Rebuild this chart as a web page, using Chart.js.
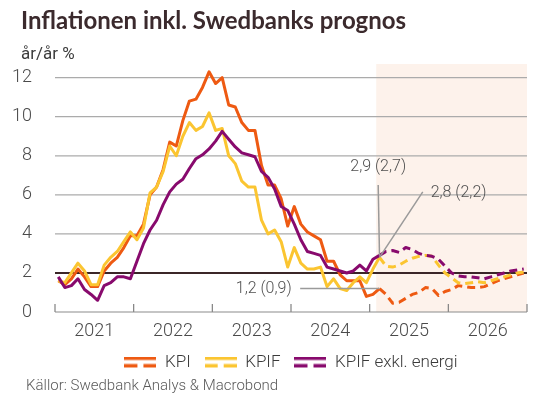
<!DOCTYPE html>
<html>
<head>
<meta charset="utf-8">
<script src="https://cdn.jsdelivr.net/npm/chart.js@4/dist/chart.umd.min.js"></script>
<style>
  html, body { margin: 0; padding: 0; background: #fff; }
  #wrap { width: 543px; height: 399px; }
</style>
</head>
<body>
<div id="wrap"><canvas id="myChart" width="543" height="399"></canvas></div>
<script>
// monthly, Jan 2021 - Dec 2026 (y/y %)
const years = ["2021", "2022", "2023", "2024", "2025", "2026"];
const yTicks = [0, 2, 4, 6, 8, 10, 12];
const lastOutcome = 49; // Feb 2025, forecast after this

const kpi = [
  1.6, 1.4, 1.7, 2.2, 1.8, 1.3, 1.3, 2.1, 2.5, 2.8, 3.3, 3.9,
  3.9, 4.5, 6.0, 6.4, 7.3, 8.7, 8.5, 9.8, 10.8, 10.9, 11.5, 12.3,
  11.7, 12.0, 10.6, 10.5, 9.7, 9.3, 9.3, 7.5, 6.5, 6.5, 5.8, 4.4,
  5.4, 4.5, 4.1, 3.9, 3.7, 2.6, 2.6, 1.9, 1.6, 1.6, 1.6, 0.8,
  0.9, 1.2, 0.9, 0.45, 0.5, 0.7, 0.9, 1.0, 1.25, 1.2, 0.85, 1.05,
  1.15, 1.35, 1.3, 1.25, 1.25, 1.3, 1.45, 1.6, 1.7, 1.8, 1.9, 2.0
];
const kpif = [
  1.6, 1.5, 2.0, 2.5, 2.1, 1.4, 1.4, 2.4, 2.8, 3.1, 3.6, 4.1,
  3.7, 4.3, 6.1, 6.4, 7.2, 8.5, 8.0, 9.0, 9.7, 9.3, 9.5, 10.2,
  9.3, 9.4, 8.0, 7.6, 6.7, 6.4, 6.4, 4.7, 4.0, 4.2, 3.6, 2.3,
  3.3, 2.5, 2.2, 2.2, 2.3, 1.3, 1.7, 1.2, 1.1, 1.5, 1.8, 1.5,
  2.2, 2.8, 2.35, 2.3, 2.4, 2.6, 2.75, 2.85, 2.9, 2.85, 2.4, 2.0,
  1.75, 1.5, 1.45, 1.5, 1.55, 1.5, 1.6, 1.7, 1.8, 1.9, 2.0, 2.05
];
const kpifXe = [
  1.8, 1.25, 1.35, 1.7, 1.15, 0.9, 0.6, 1.35, 1.5, 1.8, 1.8, 1.7,
  2.6, 3.5, 4.2, 4.7, 5.5, 6.15, 6.55, 6.8, 7.35, 7.85, 8.05, 8.35,
  8.75, 9.25, 8.85, 8.45, 8.15, 8.05, 7.95, 7.2, 6.9, 6.3, 5.4, 5.2,
  4.5, 3.7, 3.1, 3.0, 2.9, 2.3, 2.2, 2.1, 2.0, 2.1, 2.4, 2.1,
  2.7, 2.9, 3.1, 3.15, 3.05, 3.3, 3.2, 3.0, 2.9, 2.85, 2.7, 2.35,
  2.0, 1.85, 1.8, 1.8, 1.75, 1.7, 1.8, 1.9, 2.0, 2.1, 2.15, 2.2
];

const seriesNames = ["KPI", "KPIF", "KPIF exkl. energi"];
const seriesColors = ["#ee5a12", "#fbc531", "#880a6d"];

// callouts: text, series, label position (month, value)
const callouts = [
  { text: "2,9 (2,7)", series: 2, x: 49.3, y: 7.45, align: "center", from: [49.3, 6.5] },
  { text: "2,8 (2,2)", series: 1, x: 57.3, y: 6.1, align: "left", from: [56.1, 6.15] },
  { text: "1,2 (0,9)", series: 0, x: 36.1, y: 1.2, align: "right", from: [37.4, 1.2] }
];

const toPoints = arr => arr.map((v, i) => ({ x: i + 0.5, y: v }));

const legendIcon = color => {
  const c = document.createElement("canvas");
  c.width = 32;
  c.height = 12;
  const g = c.getContext("2d");
  g.fillStyle = color;
  g.fillRect(0, 0, 32, 3.5);
  g.fillRect(0, 7.5, 13, 3.5);
  g.fillRect(19, 7.5, 13, 3.5);
  return c;
};

const datasets = [kpi, kpif, kpifXe].map((arr, i) => ({
  label: seriesNames[i],
  data: toPoints(arr),
  borderColor: seriesColors[i],
  backgroundColor: seriesColors[i],
  borderWidth: 3,
  pointRadius: 0,
  tension: 0,
  borderJoinStyle: "round",
  order: 3 - i,
  segment: {
    borderDash: ctx => (ctx.p0DataIndex >= lastOutcome ? [8, 5] : undefined),
  },
}));

const backdrop = {
  id: "backdrop",
  beforeDatasetsDraw(chart) {
    const { ctx, chartArea, scales } = chart;
    // the 2 % line
    const y2 = Math.round(scales.y.getPixelForValue(2));
    ctx.save();
    ctx.fillStyle = "#3b2628";
    ctx.fillRect(chartArea.left, y2 - 1, chartArea.right - chartArea.left, 2);
    ctx.restore();
  },
  afterDatasetsDraw(chart) {
    const { ctx, scales } = chart;
    ctx.save();
    ctx.font = "300 16px Roboto";
    ctx.fillStyle = "#505050";
    ctx.textBaseline = "middle";
    callouts.forEach(c => {
      const src = [kpi, kpif, kpifXe][c.series];
      const px = scales.x.getPixelForValue(lastOutcome + 0.5);
      const py = scales.y.getPixelForValue(src[lastOutcome]);
      ctx.strokeStyle = "#9a9a9a";
      ctx.lineWidth = 1.5;
      ctx.beginPath();
      ctx.moveTo(scales.x.getPixelForValue(c.from[0]), scales.y.getPixelForValue(c.from[1]));
      ctx.lineTo(px, py);
      ctx.stroke();
      ctx.textAlign = c.align;
      ctx.fillText(c.text, scales.x.getPixelForValue(c.x), scales.y.getPixelForValue(c.y));
    });
    ctx.restore();
  },
  afterDraw(chart) {
    const { ctx, chartArea, scales, width, height } = chart;
    const left = chartArea.left;
    const right = chartArea.right;

    ctx.save();
    ctx.textBaseline = "alphabetic";
    ctx.textAlign = "left";
    ctx.fillStyle = "#3b2a2d";
    ctx.font = "bold 24px Lato";
    ctx.fillText("Inflationen inkl. Swedbanks prognos", 21, 29);
    ctx.fillStyle = "#3d3d3d";
    ctx.font = "17px Roboto";
    ctx.fillText("år/år %", 21, 59);
    ctx.fillStyle = "#5a5a5a";
    ctx.font = "300 15px Roboto";
    ctx.fillText("Källor: Swedbank Analys & Macrobond", 26, 390);
    ctx.restore();

    ctx.save();
    // grid, forecast band and page background go underneath what is already drawn
    ctx.globalCompositeOperation = "destination-over";
    ctx.lineCap = "butt";
    for (const v of yTicks) {
      if (v === 2) continue;
      const y = scales.y.getPixelForValue(v);
      ctx.beginPath();
      ctx.strokeStyle = v === 0 ? "#8c8c8c" : "#ababab";
      ctx.lineWidth = 1.2;
      ctx.moveTo(left, y);
      ctx.lineTo(right, y);
      ctx.stroke();
    }
    ctx.strokeStyle = "#808080";
    ctx.lineWidth = 1.2;
    for (let m = 0; m <= 72; m += 12) {
      const x = scales.x.getPixelForValue(m);
      ctx.beginPath();
      ctx.moveTo(x, chartArea.bottom - 8);
      ctx.lineTo(x, chartArea.bottom);
      ctx.stroke();
    }
    const x0 = scales.x.getPixelForValue(lastOutcome);
    ctx.fillStyle = "#fdf2eb";
    ctx.fillRect(x0, chartArea.top, right - x0, chartArea.bottom - chartArea.top);
    ctx.fillStyle = "#ffffff";
    ctx.fillRect(0, 0, width, height);
    ctx.restore();
  },
};

new Chart("myChart", {
  type: "line",
  data: { datasets },
  options: {
    responsive: false,
    animation: false,
    layout: { padding: { top: 64, bottom: 18, left: 0, right: 16 } },
    plugins: {
      tooltip: { enabled: false },
      legend: {
        position: "bottom",
        fullSize: false,
        labels: {
          usePointStyle: true,
          pointStyleWidth: 32,
          boxHeight: 12,
          padding: 14,
          color: "#3a3a3a",
          font: { family: "Roboto", size: 17, weight: "300" },
          generateLabels: chart =>
            chart.data.datasets.map((ds, i) => ({
              text: ds.label,
              pointStyle: legendIcon(seriesColors[i]),
              fillStyle: seriesColors[i],
              strokeStyle: seriesColors[i],
              lineWidth: 0,
              fontColor: "#3a3a3a",
              datasetIndex: i,
            })),
        },
      },
    },
    scales: {
      x: {
        type: "linear",
        min: 0,
        max: 72,
        afterFit: scale => { scale.height = 28; },
        afterBuildTicks: scale => {
          scale.ticks = years.map((y, i) => ({ value: i * 12 + 6 }));
        },
        ticks: {
          autoSkip: false,
          maxRotation: 0,
          padding: 1,
          color: "#4a4a4a",
          font: { family: "Roboto", size: 18, weight: "300" },
          callback: value => years[Math.floor(value / 12)],
        },
        grid: { display: false },
        border: { display: false },
      },
      y: {
        min: 0,
        max: 12.7,
        afterFit: scale => { scale.width = 55; },
        afterBuildTicks: scale => {
          scale.ticks = yTicks.map(v => ({ value: v }));
        },
        ticks: {
          padding: 15,
          color: "#4a4a4a",
          font: { family: "Roboto", size: 18, weight: "300" },
        },
        grid: { display: false },
        border: { display: false },
      },
    },
  },
  plugins: [backdrop],
});
</script>
</body>
</html>
